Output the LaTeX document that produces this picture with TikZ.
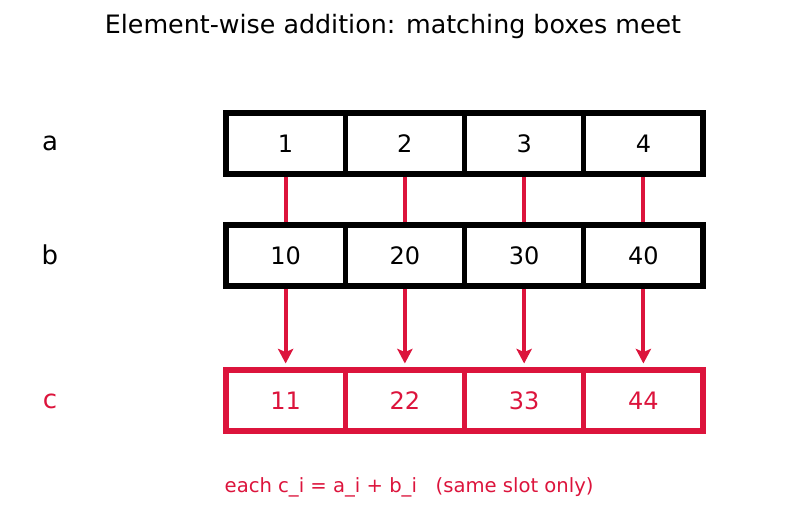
\documentclass[tikz,border=0pt]{standalone}
\usepackage{fontspec}
\setmainfont{DejaVu Sans}
\usepackage{tikz}
\usetikzlibrary{arrows.meta, positioning}
\definecolor{crimson}{HTML}{DC143C}

\begin{document}
\begin{tikzpicture}[x=0.75pt, y=-0.75pt,
  cell/.style={draw, line width=3.8pt, minimum width=89.4pt, minimum height=45.75pt, inner sep=0pt, font=\fontsize{18}{18}\selectfont},
  rowlabel/.style={font=\fontsize{19.5}{19.5}\selectfont},
  link/.style={crimson, line width=2.9pt}]
\useasboundingbox (0,0) rectangle (787,512);
% Titulo
\node (title) at (393,27) {\fontsize{19}{19}\selectfont Element-wise addition: matching boxes meet};
% Filas
\node[rowlabel] (la) at (50,143) {a};
\node[rowlabel] (lb) at (50,255) {b};
\node[rowlabel, crimson] (lc) at (50,401) {c};
\foreach \i/\va/\vb/\vc in {1/1/10/11, 2/2/20/22, 3/3/30/33, 4/4/40/44} {
    \node[cell] (a\i) at ({226+119.25*(\i-0.5)},143.5) {\va};
    \node[cell] (b\i) at ({226+119.25*(\i-0.5)},255.5) {\vb};
    \node[cell, crimson] (c\i) at ({226+119.25*(\i-0.5)},400.5) {\vc};
}
% Flechas
\foreach \i in {1,...,4} {
    \draw[link] (a\i) -- (b\i);
    \draw[link, -{Stealth[length=11pt, width=11.5pt, inset=2.5pt]}, shorten >=3pt] (b\i) -- (c\i);
}
% Nota
\node[crimson, anchor=west, font=\fontsize{14.7}{14.7}\selectfont] (note) at (220,487) {each c\_i = a\_i + b\_i \ \ (same slot only)};
\end{tikzpicture}
\end{document}
